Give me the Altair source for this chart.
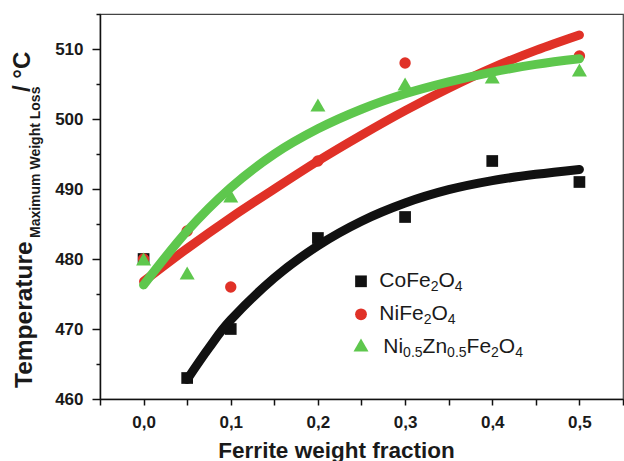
import altair as alt
import pandas as pd

# ---------------- data ----------------
frac = [0.0, 0.05, 0.1, 0.2, 0.3, 0.4, 0.5]
co_temp = [480, 463, 470, 483, 486, 494, 491]
ni_temp = [480, 484, 476, 494, 508, 507, 509]
nz_temp = [480, 478, 489, 502, 505, 506, 507]

co_fit_x = [0.05, 0.075, 0.1, 0.15, 0.2, 0.25, 0.3, 0.35, 0.4, 0.45, 0.5]
co_fit_y = [462.8, 467.3, 471.3, 477.3, 481.9, 485.4, 488.0, 489.9, 491.2, 492.1, 492.8]
fit_x = [0.0, 0.05, 0.1, 0.15, 0.2, 0.25, 0.3, 0.35, 0.4, 0.45, 0.5]
ni_fit_y = [476.8, 481.5, 485.9, 490.0, 494.0, 497.7, 501.2, 504.4, 507.3, 509.8, 512.0]
nz_fit_y = [476.3, 484.0, 490.2, 495.0, 498.6, 501.4, 503.6, 505.3, 506.7, 507.8, 508.6]

x_ticks = [-0.05, 0.0, 0.05, 0.1, 0.15, 0.2, 0.25, 0.3, 0.35, 0.4, 0.45, 0.5, 0.55]
y_ticks = [460, 465, 470, 475, 480, 485, 490, 495, 500, 505, 510, 515]

legend_rows = [
    ("square", [("CoFe", 0), ("2", 1), ("O", 0), ("4", 1)]),
    ("circle", [("NiFe", 0), ("2", 1), ("O", 0), ("4", 1)]),
    ("triangle-up", [("Ni", 0), ("0.5", 1), ("Zn", 0), ("0.5", 1), ("Fe", 0), ("2", 1), ("O", 0), ("4", 1)]),
]

# ---------------- styling ----------------
BLACK = "#111111"
RED = "#e03127"
GREEN = "#5ec74d"
FONT = "Liberation Sans"
TXT = "#1a1a1a"
W, H = 523, 385

xs = alt.Scale(domain=[-0.05, 0.55], nice=False, zero=False)
ys = alt.Scale(domain=[460, 515], nice=False, zero=False)

x_axis = alt.Axis(
    values=x_ticks,
    labelExpr="abs(round(datum.value*20)) % 2 == 1 ? '' : replace(format(datum.value, '.1f'), '.', ',')",
    tickSize=6, tickWidth=1.5, tickColor=BLACK,
    domainColor=BLACK, domainWidth=1.5,
    labelFont=FONT, labelFontSize=17, labelFontWeight="bold", labelColor=TXT,
    labelPadding=9, labelFlush=False, labelOverlap=False, grid=False,
    title="Ferrite weight fraction", titleFont=FONT, titleFontSize=22.5,
    titleFontWeight="bold", titleColor=TXT, titleX=236, titleY=58,
    titleAlign="center", titleBaseline="alphabetic", titleAngle=0,
)
y_axis = alt.Axis(
    values=y_ticks,
    labelExpr="datum.value % 10 == 0 ? format(datum.value, 'd') : ''",
    tickSize={"condition": {"test": "datum.value % 10 == 0", "value": 8}, "value": 4},
    tickWidth=1.5, tickColor=BLACK,
    domainColor=BLACK, domainWidth=1.5,
    labelFont=FONT, labelFontSize=17, labelFontWeight="bold", labelColor=TXT,
    labelPadding=9, labelFlush=False, labelOverlap=False, grid=False, title=None,
)


def pts(xv, yv, shape, color, size):
    df = pd.DataFrame({"x": xv, "y": yv})
    return alt.Chart(df).mark_point(shape=shape, filled=True, size=size, color=color, opacity=1).encode(
        x=alt.X("x:Q", scale=xs, axis=x_axis), y=alt.Y("y:Q", scale=ys, axis=y_axis)
    )


def fit(xv, yv, color):
    df = pd.DataFrame({"x": xv, "y": yv})
    return alt.Chart(df).mark_line(color=color, strokeWidth=9, strokeCap="round",
                                   strokeJoin="round", interpolate="cardinal").encode(
        x=alt.X("x:Q", scale=xs, axis=x_axis), y=alt.Y("y:Q", scale=ys, axis=y_axis)
    )


def txt(s, x, y, size, weight="normal", angle=0):
    kw = dict(text=s, font=FONT, fontSize=size, fontWeight=weight, color=TXT,
              align="left", baseline="alphabetic")
    if angle:
        kw["angle"] = angle
    return alt.Chart(pd.DataFrame({"t": [s]})).mark_text(**kw).encode(
        x=alt.value(x), y=alt.value(y))


# Arial/Liberation Sans advance widths (per 1000 em) for legend layout
ADV = {'C': 722, 'o': 556, 'F': 611, 'e': 556, 'O': 778, 'N': 722, 'i': 222,
       'Z': 611, 'n': 556, '.': 278, '0': 556, '2': 556, '4': 556, '5': 556}

layers = [
    pts(frac, co_temp, "square", BLACK, 137),
    pts(frac, ni_temp, "circle", RED, 130),
    pts(frac, nz_temp, "triangle-up", GREEN, 225),
    fit(co_fit_x, co_fit_y, BLACK),
    fit(fit_x, ni_fit_y, RED),
    fit(fit_x, nz_fit_y, GREEN),
]

# legend
sym_colors = [BLACK, RED, GREEN]
sym_sizes = [137, 140, 225]
sym_y = [267.3, 300.3, 331]
text_x0 = [279.3, 279.3, 283.3]
base_y = [272.5, 306, 339]
MAIN, SUB = 21, 14
for i, (shape, segs) in enumerate(legend_rows):
    layers.append(
        alt.Chart(pd.DataFrame({"k": [shape]})).mark_point(
            shape=shape, filled=True, size=sym_sizes[i], color=sym_colors[i], opacity=1
        ).encode(x=alt.value(261), y=alt.value(sym_y[i]))
    )
    cx = text_x0[i]
    for s, sub in segs:
        fs = SUB if sub else MAIN
        layers.append(txt(s, cx, base_y[i] + (4 if sub else 0), fs))
        cx += sum(ADV[c] for c in s) * fs / 1000

# y-axis title with subscript
layers.append(txt("Temperature", -68, 374, 24.5, "bold", 270))
layers.append(txt("Maximum Weight Loss", -60.5, 224, 14, "bold", 270))
layers.append(txt("/ °C", -70, 78, 24, "bold", 270))

chart = alt.layer(*layers).properties(
    width=W, height=H,
    autosize=alt.AutoSizeParams(type="none"),
    padding={"left": 100, "top": 14, "right": 1, "bottom": 62},
    background="white",
).configure_view(stroke="#444444", strokeWidth=1.2)

chart.save("out.html", embed_options={"renderer": "svg", "actions": False})
